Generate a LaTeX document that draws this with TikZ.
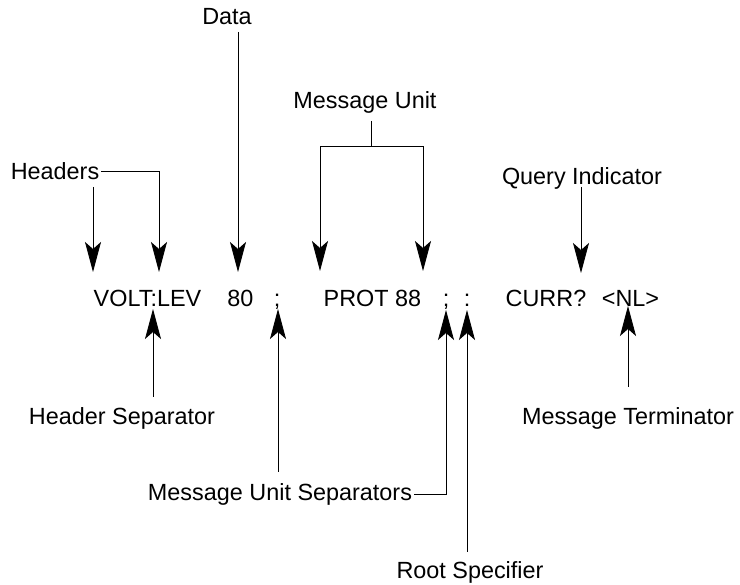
\documentclass[tikz,border=0pt]{standalone}
\usepackage{fontspec}
\setmainfont{Liberation Sans}
\usetikzlibrary{arrows.meta}
\begin{document}
\begin{tikzpicture}[x=1pt,y=-1pt,
  txt/.style={inner sep=2pt,font=\fontsize{23.4}{28}\selectfont},
  tok/.style={txt,anchor=base},
  arr/.style={line width=0.8pt,-{Stealth[length=30pt,width=16pt,inset=7pt]}},
  ln/.style={line width=0.8pt}]
\useasboundingbox (0,0) rectangle (740,585);

% command line tokens
\node[tok] (volt)  at (147.5,307) {VOLT:LEV};
\node[tok] (d80)   at (240.5,307) {80};
\node[tok] (semiA) at (277,307)   {;};
\node[tok] (prot)  at (372.5,307) {PROT 88};
\node[tok] (semiB) at (446,307)   {;};
\node[tok] (colon) at (467,307)   {:};
\node[tok] (curr)  at (546,307)   {CURR?};
\node[tok] (nl)    at (630.5,307) {<NL>};

% labels
\node[txt] (data)    at (227,17)  {Data};
\node[txt] (headers) at (55,171)  {Headers};
\node[txt] (msgunit) at (365,102) {Message Unit};
\node[txt] (query)   at (582,178) {Query Indicator};
\node[txt] (hsep)    at (122,418) {Header Separator};
\node[txt] (musep)   at (280,494) {Message Unit Separators};
\node[txt] (root)    at (470,572) {Root Specifier};
\node[txt] (term)    at (628,418) {Message Terminator};

% arrow tips and line ends
\coordinate (tVolt)  at (93,272);
\coordinate (tLev)   at (159,272);
\coordinate (tData)  at (238,272);
\coordinate (tProt)  at (320,271);
\coordinate (t88)    at (423,271);
\coordinate (tQuery) at (581,273);
\coordinate (tColonH) at (153,309);
\coordinate (tSemiA) at (278,309);
\coordinate (tSemiB) at (446,310);
\coordinate (tRoot)  at (467,310);
\coordinate (tNL)    at (628,306);

\coordinate (sVolt)  at (93,187);
\coordinate (sData)  at (238,32);
\coordinate (muTop)  at (371,121);
\coordinate (muFoot) at (371,146);
\coordinate (sQuery) at (581,187);
\coordinate (sHsep)  at (153,397);
\coordinate (sSemiA) at (278,472);
\coordinate (sRoot)  at (467,552);
\coordinate (sTerm)  at (628,387);

% downward pointers
\draw[arr] (sData) -- (tData);
\draw[arr] (sVolt) -- (tVolt);
\draw[arr] (headers.east) -| (tLev);
\draw[ln]  (muTop) -- (muFoot);
\draw[arr] (muFoot) -| (tProt);
\draw[arr] (muFoot) -| (t88);
\draw[arr] (sQuery) -- (tQuery);

% upward pointers
\draw[arr] (sHsep) -- (tColonH);
\draw[arr] (sSemiA) -- (tSemiA);
\draw[arr] (musep.east) -| (tSemiB);
\draw[arr] (sRoot) -- (tRoot);
\draw[arr] (sTerm) -- (tNL);
\end{tikzpicture}
\end{document}
